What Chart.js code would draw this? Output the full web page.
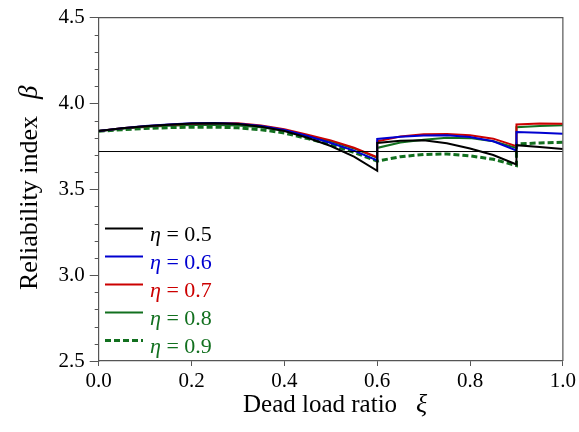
<!DOCTYPE html>
<html lang="en">
<head>
  <meta charset="UTF-8" />
  <title>Reliability index vs dead load ratio</title>
  <script src="https://cdn.jsdelivr.net/npm/chart.js"></script>
  <style>
    body { margin: 0; background: #fff; }
    #wrap { width: 579px; height: 432px; }
  </style>
</head>
<body>

<div id="wrap"><canvas id="graf" width="579" height="432"></canvas></div>

<script>
  // dead load ratio (jumps at 0.6 and 0.9 are doubled points)
  const xi = [0, 0.05, 0.1, 0.15, 0.2, 0.25, 0.3, 0.35, 0.4, 0.45, 0.5, 0.55, 0.6,
              0.6, 0.65, 0.7, 0.75, 0.8, 0.85, 0.9,
              0.9, 0.95, 1.0];

  const eta05 = [3.840, 3.855, 3.867, 3.876, 3.883, 3.885, 3.880, 3.864, 3.840, 3.800, 3.752, 3.690, 3.608,
                 3.770, 3.783, 3.785, 3.768, 3.738, 3.700, 3.645,
                 3.757, 3.746, 3.735];
  const eta06 = [3.840, 3.856, 3.868, 3.877, 3.884, 3.886, 3.882, 3.869, 3.846, 3.810, 3.770, 3.725, 3.668,
                 3.793, 3.806, 3.813, 3.815, 3.805, 3.780, 3.726,
                 3.834, 3.829, 3.824];
  const eta07 = [3.840, 3.855, 3.867, 3.876, 3.882, 3.885, 3.884, 3.872, 3.850, 3.818, 3.785, 3.742, 3.687,
                 3.780, 3.808, 3.820, 3.822, 3.815, 3.795, 3.751,
                 3.877, 3.883, 3.882];
  const eta08 = [3.840, 3.853, 3.863, 3.870, 3.874, 3.875, 3.872, 3.861, 3.842, 3.812, 3.780, 3.738, 3.683,
                 3.741, 3.772, 3.788, 3.800, 3.798, 3.780, 3.741,
                 3.861, 3.868, 3.873];
  const eta09 = [3.838, 3.847, 3.854, 3.859, 3.862, 3.862, 3.858, 3.847, 3.828, 3.795, 3.760, 3.715, 3.664,
                 3.664, 3.690, 3.703, 3.706, 3.695, 3.675, 3.638,
                 3.764, 3.770, 3.774];

  const etaValues = ['0.5', '0.6', '0.7', '0.8', '0.9'];
  const betaTarget = 3.72;

  const yTicks = [2.5, 3.0, 3.5, 4.0, 4.5];
  const xTicks = [0, 0.2, 0.4, 0.6, 0.8, 1.0];

  const FONT = '"Liberation Serif", "Times New Roman", serif';
  const cores = ['#000000', '#0000d0', '#cc0000', '#12701f', '#12701f'];
  const tracos = [[], [], [], [], [6, 3]];
  const larguras = [2, 2, 2, 2, 3];
  const series = [eta05, eta06, eta07, eta08, eta09];

  function pontos(ys) {
    return xi.map((x, i) => ({ x: x, y: ys[i] }));
  }

  const datasets = series.map((s, i) => ({
    label: 'η = ' + etaValues[i],
    data: pontos(s),
    borderColor: cores[i],
    borderWidth: larguras[i],
    borderDash: tracos[i],
    pointRadius: 0,
    tension: 0,
    fill: false
  }));
  datasets.unshift({
    label: 'target',
    data: [{ x: 0, y: betaTarget }, { x: 1, y: betaTarget }],
    borderColor: '#000',
    borderWidth: 1,
    pointRadius: 0,
    fill: false
  });

  // moldura, ticks menores, legenda e titulos dos eixos
  const extras = {
    id: 'extras',
    afterDatasetsDraw(chart) {
      const ctx = chart.ctx;
      const a = chart.chartArea;
      const ys = chart.scales.y;
      ctx.save();

      ctx.strokeStyle = '#555';
      ctx.lineWidth = 1.2;
      ctx.beginPath();
      ctx.moveTo(a.left, a.top);
      ctx.lineTo(a.right, a.top);
      ctx.lineTo(a.right, a.bottom);
      ctx.stroke();

      ctx.lineWidth = 1;
      for (let k = 25; k <= 45; k++) {
        if (k % 5 === 0) continue;
        const py = Math.round(ys.getPixelForValue(k / 10)) + 0.5;
        ctx.beginPath();
        ctx.moveTo(a.left - 4, py);
        ctx.lineTo(a.left, py);
        ctx.stroke();
      }

      // legenda
      for (let i = 0; i < series.length; i++) {
        const ly = 228.5 + i * 28;
        ctx.strokeStyle = cores[i];
        ctx.lineWidth = larguras[i];
        ctx.setLineDash(tracos[i]);
        ctx.beginPath();
        ctx.moveTo(105, ly);
        ctx.lineTo(143, ly);
        ctx.stroke();
        ctx.setLineDash([]);
        ctx.fillStyle = cores[i];
        ctx.textBaseline = 'alphabetic';
        ctx.textAlign = 'left';
        ctx.font = 'italic 22px ' + FONT;
        ctx.fillText('η', 150, ly + 12);
        const w = ctx.measureText('η').width;
        ctx.font = '22px ' + FONT;
        ctx.fillText(' = ' + etaValues[i], 150 + w, ly + 12);
      }

      // titulos
      ctx.fillStyle = '#000';
      ctx.font = '25px ' + FONT;
      const tx = 'Dead load ratio';
      const wx = ctx.measureText(tx).width;
      const x0 = 243;
      ctx.fillText(tx, x0, 412);
      ctx.font = 'italic 26px ' + FONT;
      ctx.fillText('ξ', x0 + wx + 19, 412);

      ctx.translate(37, 290);
      ctx.rotate(-Math.PI / 2);
      ctx.font = '26px ' + FONT;
      const ty = 'Reliability index';
      ctx.fillText(ty, 0, 0);
      const wy = ctx.measureText(ty).width;
      ctx.font = 'italic 27px ' + FONT;
      ctx.fillText('β', wy + 17, 0);

      ctx.restore();
    }
  };

  new Chart(document.getElementById('graf').getContext('2d'), {
    type: 'line',
    data: { datasets: datasets },
    options: {
      responsive: false,
      animation: false,
      devicePixelRatio: 1,
      layout: { padding: { top: 16, right: 16, left: 0, bottom: 0 } },
      plugins: { legend: { display: false }, tooltip: { enabled: false } },
      scales: {
        x: {
          type: 'linear',
          min: 0, max: 1,
          afterBuildTicks: s => { s.ticks = xTicks.map(v => ({ value: v })); },
          afterFit: s => { s.height = 71; },
          ticks: {
            callback: v => v.toFixed(1),
            font: { family: FONT, size: 21 },
            color: '#000',
            padding: 3,
            maxRotation: 0
          },
          grid: { drawOnChartArea: false, tickLength: 5, tickColor: '#555', tickWidth: 1 },
          border: { color: '#555', width: 1.2 }
        },
        y: {
          min: 2.5, max: 4.5,
          afterBuildTicks: s => { s.ticks = yTicks.map(v => ({ value: v })); },
          afterFit: s => { s.width = 98.7; },
          ticks: {
            callback: v => v.toFixed(1),
            font: { family: FONT, size: 21 },
            color: '#000',
            padding: 5
          },
          grid: { drawOnChartArea: false, tickLength: 9, tickColor: '#555', tickWidth: 1 },
          border: { color: '#555', width: 1.2 }
        }
      }
    },
    plugins: [extras]
  });
</script>

</body>
</html>
